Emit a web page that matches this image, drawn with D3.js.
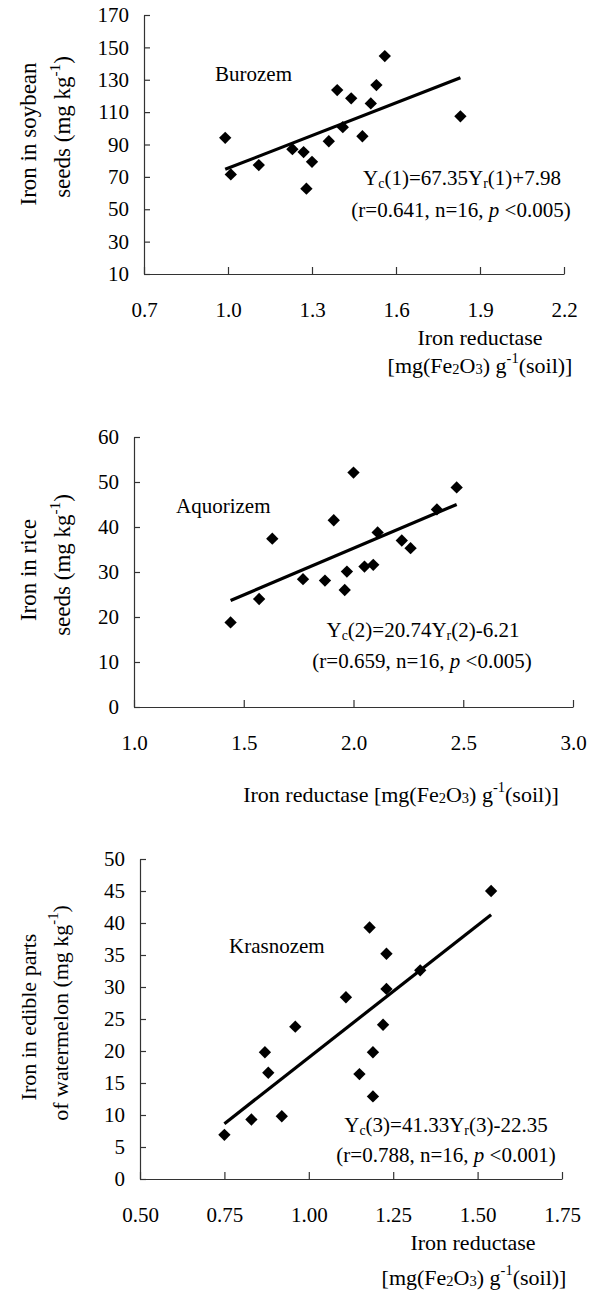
<!DOCTYPE html>
<html>
<head>
<meta charset="utf-8">
<script src="https://cdn.jsdelivr.net/npm/d3@7"></script>
<style>
    body { margin: 0; background: #fff; }
    svg text { font-family: "Liberation Serif", "Times New Roman", serif; fill: #000; }
</style>
</head>
<body>
<div id="chart"></div>
<script>
// Burozem (soybean)
let burozemX = [0.99, 1.01, 1.11, 1.23, 1.27, 1.30, 1.28, 1.36, 1.39, 1.41, 1.44, 1.48, 1.51, 1.53, 1.56, 1.83];
let burozemY = [94.1, 71.5, 77.3, 87.1, 85.3, 79.3, 62.7, 92.0, 123.6, 100.7, 118.5, 95.1, 115.4, 126.7, 144.6, 107.4];

// Aquorizem (rice)
let aquorizemX = [1.44, 1.57, 1.63, 1.77, 1.87, 1.91, 1.96, 1.97, 2.00, 2.05, 2.09, 2.11, 2.22, 2.26, 2.38, 2.47];
let aquorizemY = [18.8, 24.0, 37.4, 28.4, 28.1, 41.5, 26.0, 30.1, 52.1, 31.2, 31.6, 38.8, 37.0, 35.3, 43.9, 48.8];

// Krasnozem (watermelon)
let krasnozemX = [0.75, 0.83, 0.87, 0.88, 0.92, 0.96, 1.11, 1.15, 1.18, 1.19, 1.19, 1.22, 1.23, 1.23, 1.33, 1.54];
let krasnozemY = [6.9, 9.3, 19.8, 16.6, 9.8, 23.8, 28.4, 16.4, 39.3, 19.8, 12.9, 24.1, 35.2, 29.7, 32.6, 45.0];

// regression Yc = a*Yr + b
let slopes = [67.35, 20.74, 41.33];
let intercepts = [7.98, -6.21, -22.35];

// axis ticks
let xTicks1 = [0.7, 1.0, 1.3, 1.6, 1.9, 2.2];
let yTicks1 = [10, 30, 50, 70, 90, 110, 130, 150, 170];
let xTicks2 = [1.0, 1.5, 2.0, 2.5, 3.0];
let yTicks2 = [0, 10, 20, 30, 40, 50, 60];
let xTicks3 = [0.50, 0.75, 1.00, 1.25, 1.50, 1.75];
let yTicks3 = [0, 5, 10, 15, 20, 25, 30, 35, 40, 45, 50];

let svg = d3.select("#chart").append("svg")
    .attr("width", 592)
    .attr("height", 1292);

// writes a text made of parts: [string, "sub" | "low" | "sup" | "it" | undefined]
function richText(sel, parts, size) {
    parts.forEach(function(p) {
        let t = sel.append("tspan").text(p[0]);
        if(p[1] === "sub")
            t.attr("font-size", size * 0.66).attr("baseline-shift", -3);
        else if(p[1] === "low")
            t.attr("font-size", size * 0.66).attr("baseline-shift", -1);
        else if(p[1] === "sup")
            t.attr("font-size", size * 0.66).attr("baseline-shift", size * 0.45);
        else if(p[1] === "it")
            t.attr("font-style", "italic");
    });
    return sel;
}

function drawPanel(p) {
    let xScale = d3.scaleLinear().domain(p.xDomain).range([p.left, p.right]);
    let yScale = d3.scaleLinear().domain(p.yDomain).range([p.bottom, p.top]);

    // x axis, ticks inside
    let gx = svg.append("g")
        .attr("transform", "translate(0," + p.bottom + ")")
        .call(d3.axisBottom(xScale)
            .tickValues(p.xTicks)
            .tickFormat(d3.format(p.xFormat))
            .tickSizeInner(-7)
            .tickSizeOuter(0)
            .tickPadding(28));

    // y axis, ticks inside
    let gy = svg.append("g")
        .attr("transform", "translate(" + p.left + ",0)")
        .call(d3.axisLeft(yScale)
            .tickValues(p.yTicks)
            .tickFormat(d3.format("d"))
            .tickSizeInner(-6)
            .tickSizeOuter(0)
            .tickPadding(15));

    [gx, gy].forEach(function(g) {
        g.select(".domain").attr("stroke", "#333").attr("stroke-width", 1.2);
        g.selectAll(".tick line").attr("stroke", "#333").attr("stroke-width", 1.2);
        g.selectAll(".tick text")
            .style("font-family", "'Liberation Serif', serif")
            .style("font-size", "21px")
            .attr("fill", "#000");
    });

    // regression line over the data range
    let x0 = d3.min(p.xs), x1 = d3.max(p.xs);
    svg.append("line")
        .attr("x1", xScale(x0))
        .attr("y1", yScale(p.slope * x0 + p.intercept))
        .attr("x2", xScale(x1))
        .attr("y2", yScale(p.slope * x1 + p.intercept))
        .attr("stroke", "#000")
        .attr("stroke-width", 3.2);

    // diamonds
    svg.selectAll(null)
        .data(p.xs.map(function(d, i) { return [d, p.ys[i]]; }))
        .enter()
        .append("path")
        .attr("d", d3.symbol(d3.symbolSquare, 76))
        .attr("transform", function(d) {
            return "translate(" + xScale(d[0]) + "," + yScale(d[1]) + ") rotate(45)";
        })
        .attr("fill", "#000");

    // soil name
    svg.append("text")
        .attr("x", p.name[1])
        .attr("y", p.name[2])
        .attr("font-size", 21)
        .text(p.name[0]);

    // equation lines
    p.eq.forEach(function(e) {
        richText(svg.append("text")
            .attr("x", e.x)
            .attr("y", e.y)
            .attr("text-anchor", "middle")
            .attr("font-size", 21), e.parts, 21);
    });

    // axis titles
    p.xTitle.forEach(function(e) {
        richText(svg.append("text")
            .attr("x", e.x)
            .attr("y", e.y)
            .attr("text-anchor", "middle")
            .attr("font-size", 22), e.parts, 22);
    });
    p.yTitle.forEach(function(e) {
        richText(svg.append("text")
            .attr("transform", "translate(" + e.x + "," + e.y + ") rotate(-90)")
            .attr("text-anchor", "middle")
            .attr("font-size", p.yTitleSize), e.parts, p.yTitleSize);
    });
}

let bracketParts = [["[mg(Fe"], ["2", "low"], ["O"], ["3", "low"], [") g"], ["-1", "sup"], ["(soil)]"]];
let kgParts = [["(mg kg"], ["-1", "sup"], [")"]];

drawPanel({
    xs: burozemX, ys: burozemY, slope: slopes[0], intercept: intercepts[0],
    xDomain: [0.7, 2.2], yDomain: [10, 170], xTicks: xTicks1, yTicks: yTicks1, xFormat: ".1f",
    left: 144, right: 564, top: 15, bottom: 274,
    name: ["Burozem", 215, 81],
    eq: [
        {x: 462, y: 185, parts: [["Y"], ["c", "sub"], ["(1)=67.35Y"], ["r", "sub"], ["(1)+7.98"]]},
        {x: 461, y: 217, parts: [["(r=0.641, n=16, "], ["p", "it"], [" <0.005)"]]}
    ],
    xTitle: [
        {x: 480, y: 345, parts: [["Iron reductase"]]},
        {x: 480, y: 373, parts: bracketParts}
    ],
    yTitleSize: 23,
    yTitle: [
        {x: 36, y: 134, parts: [["Iron in soybean"]]},
        {x: 70, y: 127, parts: [["seeds "]].concat(kgParts)}
    ]
});

drawPanel({
    xs: aquorizemX, ys: aquorizemY, slope: slopes[1], intercept: intercepts[1],
    xDomain: [1.0, 3.0], yDomain: [0, 60], xTicks: xTicks2, yTicks: yTicks2, xFormat: ".1f",
    left: 134, right: 573, top: 437, bottom: 707,
    name: ["Aquorizem", 176, 513],
    eq: [
        {x: 423, y: 637, parts: [["Y"], ["c", "sub"], ["(2)=20.74Y"], ["r", "sub"], ["(2)-6.21"]]},
        {x: 422, y: 668, parts: [["(r=0.659, n=16, "], ["p", "it"], [" <0.005)"]]}
    ],
    xTitle: [
        {x: 401, y: 802, parts: [["Iron reductase "]].concat(bracketParts)}
    ],
    yTitleSize: 23,
    yTitle: [
        {x: 36, y: 570, parts: [["Iron in rice"]]},
        {x: 70, y: 565, parts: [["seeds "]].concat(kgParts)}
    ]
});

drawPanel({
    xs: krasnozemX, ys: krasnozemY, slope: slopes[2], intercept: intercepts[2],
    xDomain: [0.5, 1.75], yDomain: [0, 50], xTicks: xTicks3, yTicks: yTicks3, xFormat: ".2f",
    left: 140, right: 562, top: 859, bottom: 1179,
    name: ["Krasnozem", 229, 953],
    eq: [
        {x: 446, y: 1132, parts: [["Y"], ["c", "sub"], ["(3)=41.33Y"], ["r", "sub"], ["(3)-22.35"]]},
        {x: 446, y: 1162, parts: [["(r=0.788, n=16, "], ["p", "it"], [" <0.001)"]]}
    ],
    xTitle: [
        {x: 473, y: 1250, parts: [["Iron reductase"]]},
        {x: 474, y: 1285, parts: bracketParts}
    ],
    yTitleSize: 22,
    yTitle: [
        {x: 36, y: 1017, parts: [["Iron in edible parts"]]},
        {x: 68, y: 1013, parts: [["of watermelon "]].concat(kgParts)}
    ]
});
</script>
</body>
</html>
